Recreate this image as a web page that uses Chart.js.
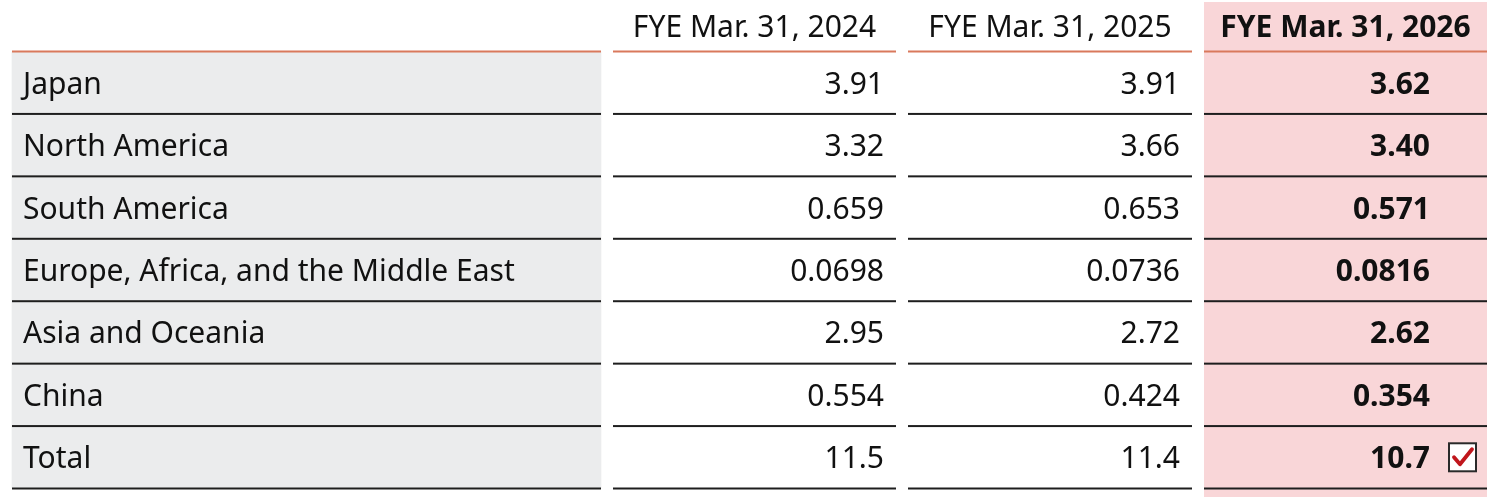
<!DOCTYPE html>
<html>
<head>
<meta charset="utf-8">
<script src="https://cdn.jsdelivr.net/npm/chart.js@4"></script>
<style>
  html, body { margin: 0; padding: 0; background: #ffffff; }
  #wrap { width: 1495px; height: 497px; }
</style>
</head>
<body>
<div id="wrap"><canvas id="c" width="1495" height="497"></canvas></div>
<script>
// ---- data ----
const regions = ['Japan', 'North America', 'South America', 'Europe, Africa, and the Middle East', 'Asia and Oceania', 'China', 'Total'];
const periods = ['FYE Mar. 31, 2024', 'FYE Mar. 31, 2025', 'FYE Mar. 31, 2026'];
const fy2024 = [3.91, 3.32, 0.659, 0.0698, 2.95, 0.554, 11.5];
const fy2025 = [3.91, 3.66, 0.653, 0.0736, 2.72, 0.424, 11.4];
const fy2026 = [3.62, 3.40, 0.571, 0.0816, 2.62, 0.354, 10.7];
const series = [fy2024, fy2025, fy2026];

// ---- layout (pixel-space x scale) ----
const labelCol = [12, 601];
const dataCols = [[613, 896], [908, 1192], [1204, 1487]];
const valueRight = [884, 1180, 1430];

const FONT = '"Noto Sans", "Open Sans", sans-serif';
const FS = 30;
const GREY = '#ebeced';
const PINK = '#f9d6d8';
const ORANGE = '#d9795c';
const LINE = '#1e1e1e';

const tablePlugin = {
  id: 'table',
  beforeDatasetsDraw(chart) {
    const ctx = chart.ctx, x = chart.scales.x;
    ctx.save();
    ctx.fillStyle = PINK;
    const c = dataCols[2];
    ctx.fillRect(x.getPixelForValue(c[0]), 2, x.getPixelForValue(c[1]) - x.getPixelForValue(c[0]), chart.height - 2);
    ctx.restore();
  },
  afterDatasetsDraw(chart) {
    const ctx = chart.ctx, x = chart.scales.x, y = chart.scales.y;
    const n = regions.length;
    const band = (y.bottom - y.top) / n;
    ctx.save();
    // header texts
    ctx.fillStyle = '#111';
    ctx.textBaseline = 'middle';
    ctx.textAlign = 'center';
    periods.forEach((p, j) => {
      const c = dataCols[j];
      ctx.font = (j === 2 ? 'bold ' : '') + FS + 'px ' + FONT;
      ctx.fillText(p, (x.getPixelForValue(c[0]) + x.getPixelForValue(c[1])) / 2, y.top / 2 + 3);
    });
    // header rule (orange)
    const segs = [labelCol].concat(dataCols);
    ctx.fillStyle = ORANGE;
    segs.forEach(s => {
      ctx.fillRect(x.getPixelForValue(s[0]), y.top - 1, x.getPixelForValue(s[1]) - x.getPixelForValue(s[0]), 2);
    });
    // row rules
    ctx.fillStyle = LINE;
    for (let i = 0; i < n; i++) {
      const yb = y.getPixelForValue(i) + band / 2;
      segs.forEach(s => {
        ctx.fillRect(x.getPixelForValue(s[0]), yb - 1, x.getPixelForValue(s[1]) - x.getPixelForValue(s[0]), 2);
      });
    }
    // row labels and values
    ctx.fillStyle = '#111';
    regions.forEach((r, i) => {
      const yc = y.getPixelForValue(i) + 2.5;
      ctx.textAlign = 'left';
      ctx.font = FS + 'px ' + FONT;
      ctx.fillText(r, x.getPixelForValue(labelCol[0]) + 11, yc);
      series.forEach((s, j) => {
        ctx.textAlign = 'right';
        ctx.font = (j === 2 ? 'bold ' : '') + FS + 'px ' + FONT;
        ctx.fillText(s[i].toPrecision(3), x.getPixelForValue(valueRight[j]), yc);
      });
    });
    // check box next to total
    const yt = y.getPixelForValue(n - 1);
    const bx = x.getPixelForValue(1449), by = yt - 14;
    ctx.fillStyle = '#ffffff';
    ctx.fillRect(bx, by, 27, 28);
    ctx.strokeStyle = '#2a2a2a';
    ctx.lineWidth = 2;
    ctx.strokeRect(bx, by, 27, 28);
    ctx.strokeStyle = '#c0161c';
    ctx.lineWidth = 3.8;
    ctx.lineCap = 'round';
    ctx.lineJoin = 'round';
    ctx.beginPath();
    ctx.moveTo(bx + 5, by + 14);
    ctx.lineTo(bx + 11, by + 21);
    ctx.lineTo(bx + 23, by + 6);
    ctx.stroke();
    ctx.restore();
  }
};

new Chart(document.getElementById('c'), {
  type: 'bar',
  data: {
    labels: regions,
    datasets: [{
      data: regions.map(() => labelCol),
      backgroundColor: GREY,
      borderWidth: 0,
      barPercentage: 1,
      categoryPercentage: 1
    }]
  },
  options: {
    indexAxis: 'y',
    responsive: false,
    animation: false,
    layout: { padding: { top: 51.5, bottom: 8.5, left: 0, right: 0 } },
    scales: {
      x: { type: 'linear', min: 0, max: 1495, display: false },
      y: { type: 'category', display: false, offset: true }
    },
    plugins: { legend: { display: false }, tooltip: { enabled: false } }
  },
  plugins: [tablePlugin]
});
</script>
</body>
</html>
